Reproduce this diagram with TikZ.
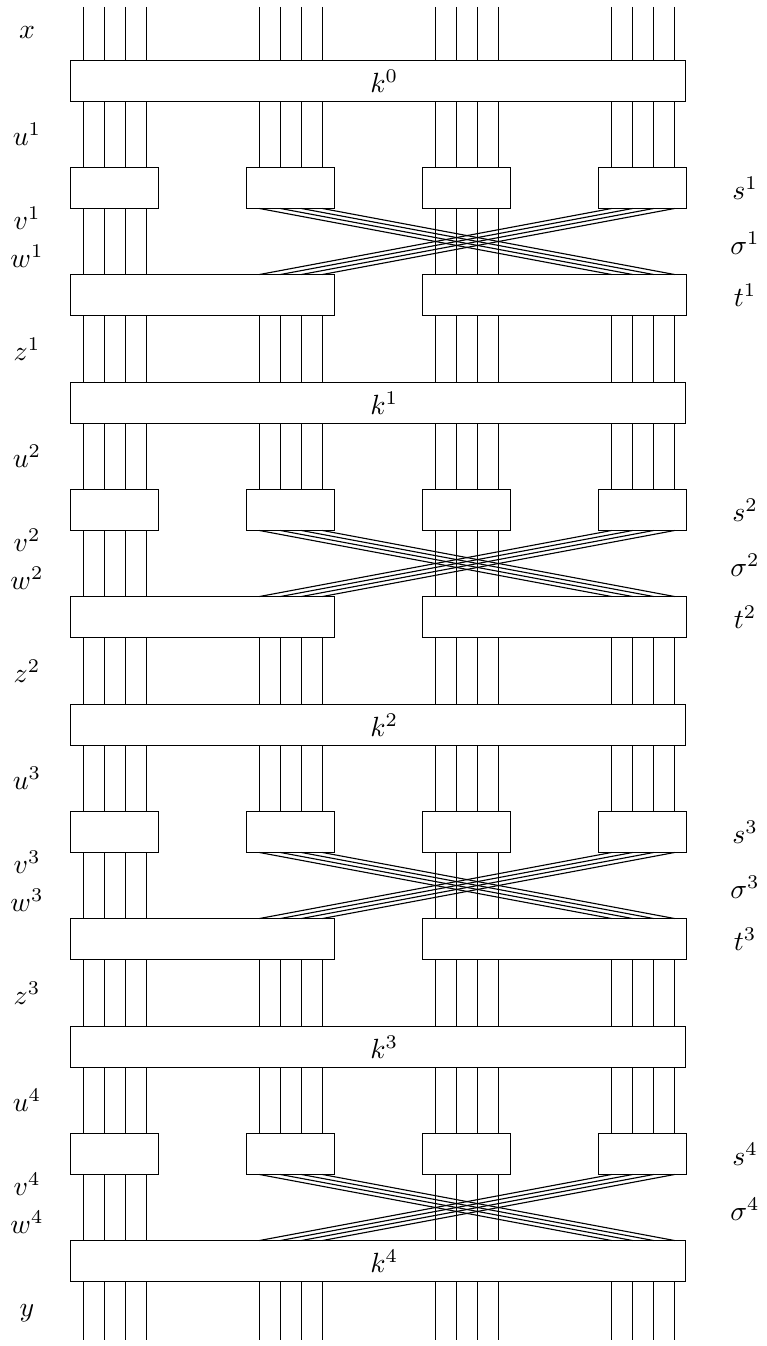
\documentclass[tikz,border=0pt]{standalone}
\usetikzlibrary{calc}
\tikzset{
  % scatole e fili
  box/.style={draw,thin,fill=white,rectangle,anchor=north west,inner sep=0pt,outer sep=0pt,minimum height=14.76pt},
  box k/.style={box,minimum width=221.4pt},
  box s/.style={box,minimum width=31.68pt},
  box t/.style={box,minimum width=95.04pt},
  wire/.style={thin},
  % etichette
  var left/.style={anchor=center},
  var right/.style={anchor=center}
}
\begin{document}
\begin{tikzpicture}[x=0.36pt,y=-0.36pt]
  \useasboundingbox (0,0) rectangle (766,1346);
  % posizioni dei fili
  \foreach \g in {1,...,4}
    \foreach \i in {1,...,4}{
      \coordinate (w\g\i) at ({83.5+176*(\g-1)+21*(\i-1)},7);
      \coordinate (b\g\i) at ({83.5+176*(\g-1)+21*(\i-1)},1340);
    }
  % scatole
  \foreach \r in {0,...,3}
    \node[box k] (k\r) at (70.5,{60.5+322*\r}) {\hspace{4.5pt}$k^{\r}$};
  \node[box k,alias=t41,alias=t42,alias=t43,alias=t44] (k4) at (70.5,1240.5) {\hspace{4.5pt}$k^4$};
  \foreach \r in {1,...,4}
    \foreach \g in {1,...,4}
      \node[box s] (s\r\g) at ({70.5+176*(\g-1)},{167.5+322*(\r-1)}) {};
  \foreach \r in {1,...,3}{
    \node[box t,alias=t\r1,alias=t\r2] (tl\r) at (70.5,{274.5+322*(\r-1)}) {};
    \node[box t,alias=t\r3,alias=t\r4] (tr\r) at (422.5,{274.5+322*(\r-1)}) {};
  }
  % fili (2 e 4 si scambiano)
  \foreach \g/\tg in {1/1,2/4,3/3,4/2}
    \foreach \i in {1,...,4}{
      \draw[wire] (w\g\i) -- (w\g\i |- k0.north);
      \foreach \r [count=\q from 0] in {1,...,4}{
        \draw[wire] (w\g\i |- k\q.south) -- (w\g\i |- s\r\g.north);
        \draw[wire] (w\g\i |- s\r\g.south) -- (w\tg\i |- t\r\tg.north);
      }
      \foreach \r in {1,...,3}
        \draw[wire] (w\g\i |- t\r\g.south) -- (w\g\i |- k\r.north);
      \draw[wire] (w\g\i |- k4.south) -- (b\g\i);
    }
  % etichette a sinistra
  \node[var left] (lx) at (27,33) {$x$};
  \foreach \r in {1,...,4}{
    \node[var left] (lu\r) at (27,{134+322*(\r-1)}) {$u^{\r}$};
    \node[var left] (lv\r) at (27,{218+322*(\r-1)}) {$v^{\r}$};
    \node[var left] (lw\r) at (27,{256+322*(\r-1)}) {$w^{\r}$};
  }
  \foreach \r in {1,...,3}
    \node[var left] (lz\r) at (27,{349+322*(\r-1)}) {$z^{\r}$};
  \node[var left] (ly) at (27,1313) {$y$};
  % etichette a destra
  \foreach \r in {1,...,4}{
    \node[var right] (rs\r) at (745,{188+322*(\r-1)}) {$s^{\r}$};
    \node[var right] (rsig\r) at (745,{243+322*(\r-1)}) {$\sigma^{\r}$};
  }
  \foreach \r in {1,...,3}
    \node[var right] (rt\r) at (745,{295+322*(\r-1)}) {$t^{\r}$};
\end{tikzpicture}
\end{document}
